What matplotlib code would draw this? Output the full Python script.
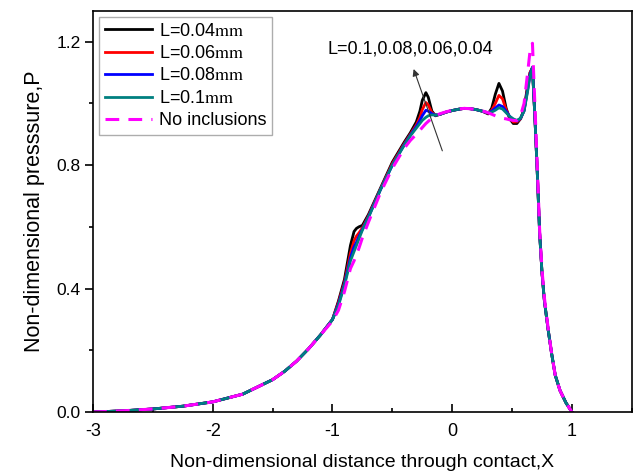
import matplotlib
matplotlib.use("Agg")
import matplotlib.pyplot as plt

plt.rcParams['font.family'] = ['Liberation Sans', 'DejaVu Sans']
plt.rcParams['mathtext.fontset'] = 'stix'
plt.rcParams['axes.unicode_minus'] = False

# shared X grid for the inclusion curves
x = [-3.0, -2.75, -2.5, -2.25, -2.0, -1.75, -1.5, -1.4, -1.3, -1.2, -1.1, -1.0,
     -0.95, -0.9, -0.85, -0.82, -0.8, -0.78, -0.75, -0.7, -0.6, -0.5, -0.4,
     -0.35, -0.3, -0.27, -0.25, -0.22, -0.2, -0.17, -0.14, -0.1, -0.05, 0.0,
     0.05, 0.1, 0.15, 0.2, 0.25, 0.3, 0.33, 0.36, 0.39, 0.42, 0.45, 0.48,
     0.51, 0.54, 0.57, 0.6, 0.63, 0.65, 0.67, 0.69, 0.71, 0.73, 0.75, 0.77,
     0.8, 0.83, 0.86, 0.9, 0.95, 1.0]

p_010 = [0.0, 0.004, 0.010, 0.019, 0.033, 0.058, 0.105, 0.132, 0.165, 0.205, 0.25, 0.30,
         0.345, 0.41, 0.49, 0.52, 0.54, 0.56, 0.59, 0.63, 0.72, 0.80, 0.865,
         0.895, 0.92, 0.935, 0.945, 0.955, 0.96, 0.963, 0.962, 0.965, 0.972, 0.977,
         0.981, 0.984, 0.983, 0.98, 0.975, 0.97, 0.972, 0.978, 0.986, 0.982, 0.97, 0.958,
         0.95, 0.945, 0.952, 0.975, 1.04, 1.09, 1.117, 0.96, 0.78, 0.58, 0.45, 0.36,
         0.27, 0.19, 0.12, 0.07, 0.03, 0.0]

p_008 = [0.0, 0.004, 0.010, 0.019, 0.033, 0.058, 0.105, 0.132, 0.165, 0.205, 0.25, 0.30,
         0.35, 0.415, 0.50, 0.535, 0.55, 0.568, 0.592, 0.632, 0.72, 0.80, 0.867,
         0.897, 0.925, 0.945, 0.96, 0.978, 0.975, 0.967, 0.962, 0.965, 0.972, 0.977,
         0.981, 0.984, 0.983, 0.98, 0.975, 0.969, 0.975, 0.985, 0.995, 0.99, 0.975, 0.958,
         0.948, 0.943, 0.951, 0.976, 1.045, 1.095, 1.117, 0.96, 0.78, 0.58, 0.45, 0.36,
         0.27, 0.19, 0.12, 0.07, 0.03, 0.0]

p_006 = [0.0, 0.004, 0.010, 0.019, 0.033, 0.058, 0.105, 0.132, 0.165, 0.205, 0.25, 0.30,
         0.355, 0.42, 0.515, 0.555, 0.57, 0.58, 0.597, 0.635, 0.722, 0.805, 0.87,
         0.9, 0.93, 0.955, 0.98, 1.003, 0.995, 0.97, 0.962, 0.965, 0.972, 0.977,
         0.981, 0.984, 0.983, 0.98, 0.975, 0.968, 0.978, 1.0, 1.026, 1.015, 0.98, 0.955,
         0.94, 0.94, 0.95, 0.978, 1.05, 1.1, 1.116, 0.96, 0.78, 0.58, 0.45, 0.36,
         0.27, 0.19, 0.12, 0.07, 0.03, 0.0]

p_004 = [0.0, 0.004, 0.010, 0.019, 0.033, 0.058, 0.105, 0.132, 0.165, 0.205, 0.25, 0.30,
         0.36, 0.43, 0.54, 0.585, 0.595, 0.60, 0.605, 0.64, 0.725, 0.81, 0.875,
         0.905, 0.94, 0.975, 1.01, 1.035, 1.02, 0.975, 0.96, 0.965, 0.972, 0.977,
         0.981, 0.984, 0.983, 0.98, 0.975, 0.966, 0.985, 1.03, 1.065, 1.04, 0.985, 0.95,
         0.935, 0.935, 0.95, 0.98, 1.06, 1.1, 1.115, 0.96, 0.78, 0.58, 0.45, 0.36,
         0.27, 0.19, 0.12, 0.07, 0.03, 0.0]

p_none = [0.0, 0.004, 0.010, 0.019, 0.033, 0.058, 0.105, 0.132, 0.165, 0.205, 0.25, 0.295,
          0.33, 0.39, 0.465, 0.49, 0.51, 0.53, 0.565, 0.615, 0.71, 0.79, 0.855,
          0.88, 0.9, 0.913, 0.922, 0.935, 0.942, 0.952, 0.96, 0.967, 0.973, 0.978,
          0.982, 0.984, 0.983, 0.98, 0.976, 0.97, 0.965, 0.96, 0.955, 0.952, 0.95, 0.947,
          0.945, 0.945, 0.96, 1.0, 1.1, 1.17, 1.195, 1.0, 0.8, 0.59, 0.46, 0.37,
          0.275, 0.19, 0.12, 0.07, 0.03, 0.0]

labels = ["L=0.04$\\mathrm{mm}$", "L=0.06$\\mathrm{mm}$", "L=0.08$\\mathrm{mm}$",
          "L=0.1$\\mathrm{mm}$", "No inclusions"]

fig = plt.figure(figsize=(6.35, 4.72), dpi=100)
ax = fig.add_axes([0.1465, 0.127, 0.8485, 0.85])

ax.plot(x, p_004, color="black", lw=2.0, label=labels[0])
ax.plot(x, p_006, color="#ff0000", lw=2.0, label=labels[1])
ax.plot(x, p_008, color="#0000ff", lw=2.0, label=labels[2])
ax.plot(x, p_010, color="#008080", lw=2.0, label=labels[3])
ax.plot(x, p_none, color="#ff00ff", lw=2.2, ls=(0, (4.5, 3)), label=labels[4])

# arrow + note for increasing inclusion length
ax.annotate("", xy=(-0.33, 1.12), xytext=(-0.075, 0.838),
            arrowprops=dict(arrowstyle="-|>", color="#333333", lw=0.8,
                            mutation_scale=10))
ax.text(-0.347, 1.178, "L=0.1,0.08,0.06,0.04", fontsize=13, ha="center", va="center")

ax.set_xlim(-3, 1.5)
ax.set_ylim(0, 1.3)
ax.set_xticks([-3, -2, -1, 0, 1])
ax.set_xticks([-2.5, -1.5, -0.5, 0.5, 1.5], minor=True)
ax.set_yticks([0.0, 0.4, 0.8, 1.2])
ax.set_yticks([0.2, 0.6, 1.0], minor=True)
ax.set_yticklabels(["0.0", "0.4", "0.8", "1.2"])
ax.tick_params(axis="x", which="both", direction="in", labelsize=13, pad=8, width=1.2)
ax.tick_params(axis="x", which="major", length=6)
ax.tick_params(axis="x", which="minor", length=3)
ax.tick_params(axis="y", which="both", direction="out", labelsize=12.5, pad=3, width=1.2)
ax.tick_params(axis="y", which="major", length=6)
ax.tick_params(axis="y", which="minor", length=3)
for s in ax.spines.values():
    s.set_linewidth(1.2)

ax.set_xlabel("Non-dimensional distance through contact,X", fontsize=14, labelpad=10)
ax.set_ylabel("Non-dimensional presssure,P", fontsize=15.5, labelpad=8)

leg = ax.legend(loc="upper left", bbox_to_anchor=(0, 1), borderaxespad=0.35,
                fontsize=13, handlelength=2.6, handletextpad=0.4, labelspacing=0.3,
                fancybox=False, frameon=True, borderpad=0.3)
leg.get_frame().set_edgecolor("#999999")
leg.get_frame().set_linewidth(1.0)

fig.savefig("out.png", dpi=100)
